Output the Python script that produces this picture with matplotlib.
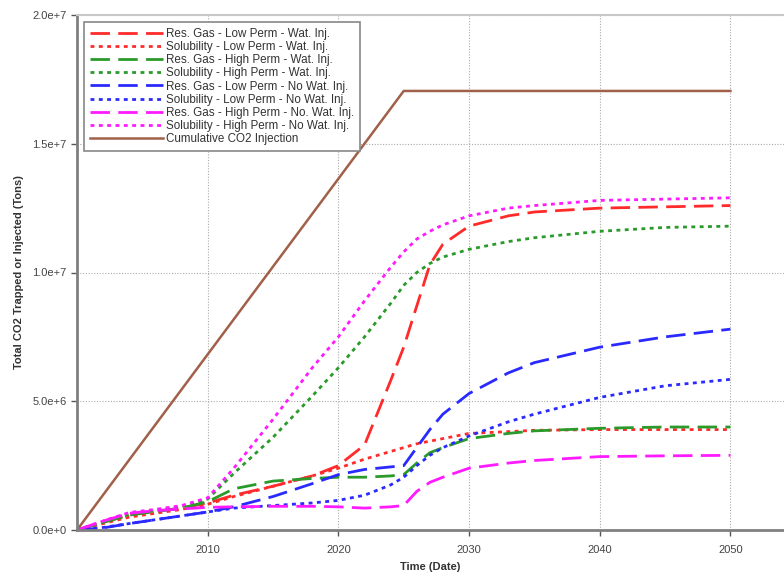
import matplotlib
matplotlib.use("Agg")
import matplotlib.pyplot as plt
from matplotlib.ticker import FuncFormatter

plt.rcParams['font.family'] = ['Liberation Sans', 'DejaVu Sans']

years = [2000, 2002, 2004, 2006, 2008, 2010, 2012, 2015, 2018, 2020, 2022,
         2024, 2025, 2026, 2027, 2028, 2030, 2033, 2035, 2040, 2045, 2050]

# values in millions of tons
res_low_wat = [0, 0.3, 0.58, 0.72, 0.85, 1.05, 1.35, 1.7, 2.1, 2.5, 3.3,
               5.8, 7.1, 8.7, 10.3, 11.1, 11.8, 12.2, 12.35, 12.5, 12.55, 12.6]
sol_low_wat = [0, 0.25, 0.5, 0.65, 0.8, 1.0, 1.3, 1.7, 2.1, 2.4, 2.75,
               3.05, 3.2, 3.35, 3.45, 3.55, 3.75, 3.82, 3.87, 3.9, 3.9, 3.9]
res_high_wat = [0, 0.3, 0.58, 0.72, 0.85, 1.1, 1.6, 1.9, 2.0, 2.05, 2.05,
                2.1, 2.15, 2.6, 3.0, 3.2, 3.55, 3.75, 3.85, 3.95, 4.0, 4.0]
sol_high_wat = [0, 0.3, 0.6, 0.75, 0.9, 1.2, 2.2, 3.6, 5.2, 6.3, 7.5,
                8.8, 9.5, 10.0, 10.35, 10.6, 10.9, 11.2, 11.35, 11.6, 11.75, 11.8]
res_low_nowat = [0, 0.08, 0.25, 0.4, 0.55, 0.7, 0.9, 1.3, 1.8, 2.15, 2.35,
                 2.45, 2.5, 3.2, 3.9, 4.5, 5.3, 6.1, 6.5, 7.1, 7.5, 7.8]
sol_low_nowat = [0, 0.1, 0.25, 0.4, 0.55, 0.7, 0.85, 0.95, 1.05, 1.15, 1.35,
                 1.75, 2.05, 2.5, 2.9, 3.2, 3.65, 4.2, 4.5, 5.15, 5.6, 5.85]
res_high_nowat = [0, 0.35, 0.65, 0.75, 0.82, 0.88, 0.9, 0.92, 0.92, 0.9, 0.85,
                  0.9, 0.95, 1.5, 1.85, 2.05, 2.4, 2.6, 2.7, 2.85, 2.88, 2.9]
sol_high_nowat = [0, 0.35, 0.68, 0.8, 0.95, 1.25, 2.4, 4.3, 6.3, 7.5, 8.9,
                  10.2, 10.8, 11.3, 11.6, 11.85, 12.2, 12.5, 12.6, 12.8, 12.85, 12.9]

inj_years = [2000, 2025, 2050]
inj_values = [0, 17.05, 17.05]

series = [
    ("Res. Gas - Low Perm - Wat. Inj.", res_low_wat, "#ff2a2a", "dash"),
    ("Solubility - Low Perm - Wat. Inj.", sol_low_wat, "#ff2a2a", "dot"),
    ("Res. Gas - High Perm - Wat. Inj.", res_high_wat, "#2a9a2a", "dash"),
    ("Solubility - High Perm - Wat. Inj.", sol_high_wat, "#2a9a2a", "dot"),
    ("Res. Gas - Low Perm - No Wat. Inj.", res_low_nowat, "#2a2aff", "dash"),
    ("Solubility - Low Perm - No Wat. Inj.", sol_low_nowat, "#2a2aff", "dot"),
    ("Res. Gas - High Perm - No. Wat. Inj.", res_high_nowat, "#ff1aff", "dash"),
    ("Solubility - High Perm - No Wat. Inj.", sol_high_nowat, "#ff1aff", "dot"),
]

fig = plt.figure(figsize=(7.84, 5.78), dpi=100)
ax = fig.add_axes([77 / 784, 48 / 578, 1 - 77 / 784, 515 / 578])

for label, vals, color, style in series:
    dashes = (7, 3) if style == "dash" else (1.4, 1.6)
    ax.plot(years, [v * 1e6 for v in vals], color=color, lw=2,
            dashes=dashes, label=label)

ax.plot(inj_years, [v * 1e6 for v in inj_values], color="#a0604a", lw=1.8,
        label="Cumulative CO2 Injection")

ax.set_xlim(2000, 2054.1)
ax.set_ylim(0, 2e7)
ax.set_xticks([2010, 2020, 2030, 2040, 2050])
ax.set_yticks([0, 5e6, 1e7, 1.5e7, 2e7])
ax.yaxis.set_major_formatter(FuncFormatter(
    lambda v, p: "0.0e+0" if v == 0 else "{:.1f}e+{}".format(
        v / 10 ** int(len(str(int(v))) - 1), len(str(int(v))) - 1)))

ax.grid(True, color="#aaaaaa", linestyle=(0, (1, 1.5)), lw=0.8)
ax.tick_params(colors="#555555", labelsize=8, length=4, width=1,
               labelcolor="#444444")
ax.tick_params(axis="x", pad=7)

for s in ["left", "bottom"]:
    ax.spines[s].set_color("#808080")
    ax.spines[s].set_linewidth(2)
ax.spines["top"].set_color("#c8c8c8")
ax.spines["top"].set_linewidth(1.5)
ax.spines["right"].set_visible(False)

ax.set_xlabel("Time (Date)", fontsize=8, fontweight="bold", color="#333333",
              labelpad=5)
ax.set_ylabel("Total CO2 Trapped or Injected (Tons)", fontsize=8,
              fontweight="bold", color="#333333", labelpad=6)

leg = ax.legend(loc="upper left", fontsize=8.4, handlelength=6.3,
                labelspacing=0.1, borderaxespad=0.6, fancybox=False,
                framealpha=1, edgecolor="#888888", handletextpad=0.25,
                borderpad=0.5)
leg.get_frame().set_linewidth(1.2)
for t in leg.get_texts():
    t.set_color("#333333")

fig.savefig("out.png", dpi=100)
